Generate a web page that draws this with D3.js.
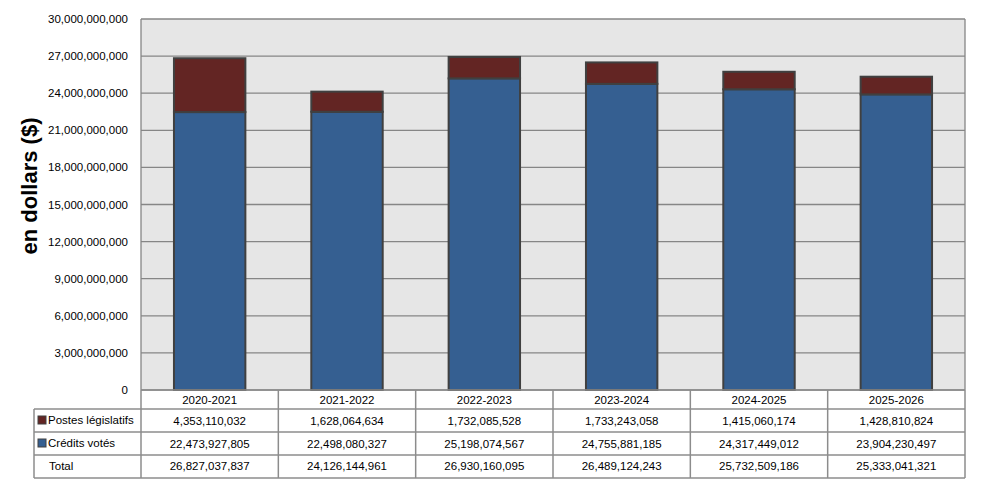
<!DOCTYPE html>
<html><head><meta charset="utf-8">
<script src="https://cdn.jsdelivr.net/npm/d3@7"></script>
<style>body{margin:0;background:#fff;} text{font-family:"Liberation Sans",Arial,sans-serif;}</style>
</head><body>
<svg id="c" width="981" height="488"></svg>
<script>
const years = ["2020-2021","2021-2022","2022-2023","2023-2024","2024-2025","2025-2026"];
const credits = [22473927805,22498080327,25198074567,24755881185,24317449012,23904230497];
const postes = [4353110032,1628064634,1732085528,1733243058,1415060174,1428810824];
const totals = [26827037837,24126144961,26930160095,26489124243,25732509186,25333041321];
const seriesNames = ["Postes législatifs","Crédits votés","Total"];
const yTicks = [0,3e9,6e9,9e9,12e9,15e9,18e9,21e9,24e9,27e9,30e9];

const svg = d3.select("#c");
const L=141, R=965, T=19, B=390;
const x = d3.scaleBand().domain(years).range([L,R]).paddingInner(0.48).paddingOuter(0.24);
const xb = d3.scaleBand().domain(years).range([L,R]);
const y = d3.scaleLinear().domain([0,30e9]).range([B,T]);
const fmt = d3.format(",");
const blue="#355f91", red="#632523", grid="#868686";

svg.append("rect").attr("x",L).attr("y",T).attr("width",R-L).attr("height",B-T).attr("fill","#e6e6e6");
svg.append("g").selectAll("line").data(yTicks).join("line")
  .attr("x1",L).attr("x2",R).attr("y1",d=>y(d)).attr("y2",d=>y(d))
  .attr("stroke",grid).attr("stroke-width",1.3);
svg.append("line").attr("x1",L).attr("x2",L).attr("y1",T).attr("y2",B).attr("stroke",grid).attr("stroke-width",1.3);
svg.append("line").attr("x1",R).attr("x2",R).attr("y1",T).attr("y2",B).attr("stroke",grid).attr("stroke-width",1.3);
svg.append("g").selectAll("text").data(yTicks).join("text")
  .attr("x",128).attr("y",d=>y(d)+4).attr("text-anchor","end").attr("font-size",11.5).attr("fill","#000")
  .text(d=>fmt(d));
svg.append("text").attr("transform","translate(37,186) rotate(-90)")
  .attr("text-anchor","middle").attr("font-size",22).attr("font-weight","bold").text("en dollars ($)");

const bars = svg.append("g");
years.forEach((yr,i)=>{
  bars.append("rect").attr("x",x(yr)).attr("width",x.bandwidth())
    .attr("y",y(credits[i])).attr("height",y(0)-y(credits[i]))
    .attr("fill",blue).attr("stroke","#404040").attr("stroke-width",2);
  bars.append("rect").attr("x",x(yr)).attr("width",x.bandwidth())
    .attr("y",y(credits[i]+postes[i])).attr("height",y(credits[i])-y(credits[i]+postes[i]))
    .attr("fill",red).attr("stroke","#404040").attr("stroke-width",2);
});

const rowY=[390,409,432,455,478];
const tcol="#8c8c8c";
const tg = svg.append("g");
rowY.forEach((ry,k)=>{
  tg.append("line").attr("x1",k===0?L:34).attr("x2",R).attr("y1",ry).attr("y2",ry).attr("stroke",tcol).attr("stroke-width",1.5);
});
tg.append("line").attr("x1",34).attr("x2",34).attr("y1",409).attr("y2",478).attr("stroke",tcol).attr("stroke-width",1.5);
years.forEach(yr=>{
  tg.append("line").attr("x1",xb(yr)).attr("x2",xb(yr)).attr("y1",390).attr("y2",478).attr("stroke",tcol).attr("stroke-width",1.5);
});
tg.append("line").attr("x1",R).attr("x2",R).attr("y1",390).attr("y2",478).attr("stroke",tcol).attr("stroke-width",1.5);
const fs=11.5;
years.forEach((yr,i)=>{
  const cx = xb(yr)+xb.bandwidth()/2;
  tg.append("text").attr("x",cx).attr("y",404).attr("text-anchor","middle").attr("font-size",fs).text(yr);
  tg.append("text").attr("x",cx).attr("y",425).attr("text-anchor","middle").attr("font-size",fs).text(fmt(postes[i]));
  tg.append("text").attr("x",cx).attr("y",448).attr("text-anchor","middle").attr("font-size",fs).text(fmt(credits[i]));
  tg.append("text").attr("x",cx).attr("y",470).attr("text-anchor","middle").attr("font-size",fs).text(fmt(totals[i]));
});
const keyCols=[red,blue,null];
seriesNames.forEach((n,k)=>{
  const ry=[409,432,455][k];
  if(keyCols[k]) tg.append("rect").attr("x",38).attr("y",ry+7).attr("width",8).attr("height",8).attr("fill",keyCols[k]).attr("stroke","#404040").attr("stroke-width",1);
  tg.append("text").attr("x",k<2?48:49).attr("y",ry+15).attr("font-size",fs).text(n);
});
</script>
</body></html>
